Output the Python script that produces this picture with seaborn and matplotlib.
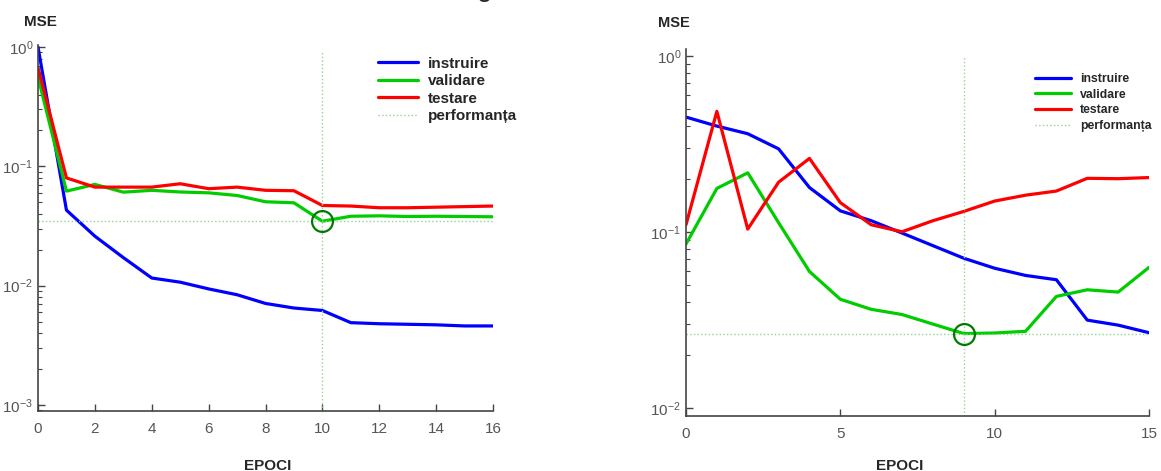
import numpy as np
import pandas as pd
import matplotlib
matplotlib.use("Agg")
import matplotlib.pyplot as plt
import seaborn as sns
from matplotlib.lines import Line2D

sns.set_style("white")
plt.rcParams['font.family'] = ['Liberation Sans', 'DejaVu Sans']

# date: eroarea MSE pe epoci
epochs_a = list(range(17))
train_a = [1.0, 0.043, 0.026, 0.0172, 0.0116, 0.0107, 0.0094, 0.0084, 0.0071,
           0.0065, 0.0062, 0.0049, 0.0048, 0.00475, 0.0047, 0.0046, 0.0046]
val_a = [0.56, 0.062, 0.0706, 0.0608, 0.063, 0.061, 0.060, 0.057, 0.0505,
         0.0495, 0.0347, 0.0382, 0.0385, 0.038, 0.0382, 0.038, 0.0378]
test_a = [0.675, 0.080, 0.067, 0.067, 0.067, 0.0715, 0.065, 0.067, 0.063,
          0.0625, 0.047, 0.0465, 0.045, 0.045, 0.0455, 0.046, 0.0465]

epochs_b = list(range(16))
train_b = [0.45, 0.40, 0.362, 0.297, 0.179, 0.132, 0.116, 0.0987, 0.0837,
           0.071, 0.0623, 0.0567, 0.0536, 0.0316, 0.0296, 0.0268]
val_b = [0.0855, 0.177, 0.217, 0.113, 0.0597, 0.0415, 0.0364, 0.034, 0.030,
         0.0265, 0.0267, 0.0273, 0.0431, 0.047, 0.0456, 0.063]
test_b = [0.11, 0.485, 0.104, 0.192, 0.262, 0.147, 0.11, 0.1004, 0.116,
          0.131, 0.150, 0.162, 0.171, 0.202, 0.201, 0.204]

series_names = ['instruire', 'validare', 'testare']
best_name = 'performanța'
colors = {'instruire': '#0000ff', 'validare': '#00cc00', 'testare': '#ff0000'}
best_color = '#8fd48f'
circle_color = '#007a00'
tick_gray = '#555555'


def make_frame(epochs, train, val, test):
    rows = []
    for name, vals in zip(series_names, [train, val, test]):
        for e, v in zip(epochs, vals):
            rows.append({'epoca': e, 'mse': v, 'set': name})
    return pd.DataFrame(rows)


def draw_panel(ax, epochs, train, val, test, ylim, xticks, top_best,
               leg_anchor, leg_size, leg_handlelen, leg_spacing):
    df = make_frame(epochs, train, val, test)
    sns.lineplot(data=df, x='epoca', y='mse', hue='set', palette=colors,
                 hue_order=series_names, linewidth=2.3, ax=ax, legend=False)
    ax.set_yscale('log')
    ax.set_ylim(*ylim)
    ax.set_xlim(epochs[0], epochs[-1])

    # cea mai buna epoca pe validare
    best = int(np.argmin(val))
    best_val = val[best]
    ax.plot([epochs[0], epochs[-1]], [best_val, best_val], ':', color=best_color, lw=1)
    ax.plot([best, best], [ylim[0], top_best], ':', color=best_color, lw=1)
    ax.plot([best], [best_val], 'o', mfc='none', mec=circle_color, ms=15, mew=1.6)

    ax.set_xticks(xticks)
    ax.set_xlabel('')
    ax.set_ylabel('')
    for s in ['top', 'right']:
        ax.spines[s].set_visible(False)
    for s in ['left', 'bottom']:
        ax.spines[s].set_color('#444444')
        ax.spines[s].set_linewidth(1.2)
    ax.tick_params(which='both', direction='in', colors='#444444',
                   labelcolor=tick_gray, labelsize=11, left=True, bottom=True)
    ax.tick_params(which='major', length=5, width=1)
    ax.tick_params(which='minor', length=3, width=0.8)
    ax.tick_params(axis='x', pad=8)

    handles = [Line2D([], [], color=colors[n], lw=2.3) for n in series_names]
    handles.append(Line2D([], [], color=best_color, lw=1, ls=':'))
    leg = ax.legend(handles, series_names + [best_name], loc='upper left',
                    bbox_to_anchor=leg_anchor, frameon=False, borderpad=0,
                    borderaxespad=0, handlelength=leg_handlelen,
                    handletextpad=0.7, labelspacing=leg_spacing,
                    prop={'weight': 'bold', 'size': leg_size})
    return leg


fig = plt.figure(figsize=(11.61, 4.71), dpi=100)
ax1 = fig.add_axes([38 / 1161, 60 / 471, 455 / 1161, 366 / 471])
ax2 = fig.add_axes([686 / 1161, 55 / 471, 463 / 1161, 367 / 471])

draw_panel(ax1, epochs_a, train_a, val_a, test_a, (10 ** -3.05, 10 ** 0.017),
           list(range(0, 17, 2)), 0.93, (0.747, 0.968), 11, 2.6, 0.23)
draw_panel(ax2, epochs_b, train_b, val_b, test_b, (10 ** -2.045, 10 ** 0.04),
           [0, 5, 10, 15], 1.0, (0.753, 0.935), 8.8, 3.0, 0.3)

fig.text(40 / 1161, 1 - 22 / 471, 'MSE', ha='center', va='center',
         fontsize=11, fontweight='bold')
fig.text(674 / 1161, 1 - 23 / 471, 'MSE', ha='center', va='center',
         fontsize=10.5, fontweight='bold')
fig.text(268 / 1161, 12 / 471, 'EPOCI', ha='center', va='top',
         fontsize=11, fontweight='bold')
fig.text(900 / 1161, 12 / 471, 'EPOCI', ha='center', va='top',
         fontsize=11, fontweight='bold')
# bucata din titlul taiat sus
fig.text(485 / 1161, 1 + 4 / 471, 'g', ha='center', va='baseline', fontsize=20)

fig.savefig('out.png', dpi=100)
